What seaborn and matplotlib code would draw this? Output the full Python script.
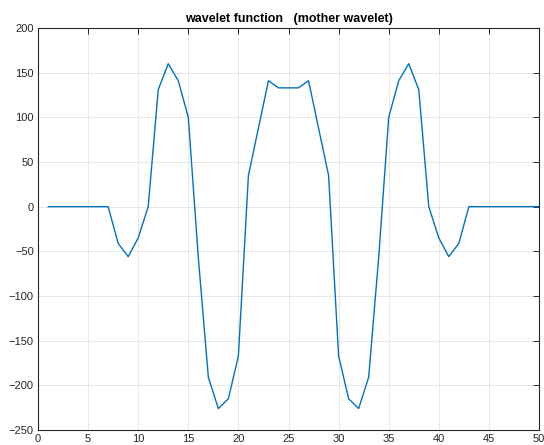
import matplotlib
matplotlib.use("Agg")
import matplotlib.pyplot as plt
import seaborn as sns
import pandas as pd

x_vals = list(range(1, 51))
y_vals = [0, 0, 0, 0, 0, 0, 0, -41, -56, -35,
          0, 131, 160, 141, 100, -57, -191, -226, -215, -167,
          35, 88, 141, 133, 133, 133, 141, 88, 35, -167,
          -215, -226, -191, -57, 100, 141, 160, 131, 0, -35,
          -56, -41, 0, 0, 0, 0, 0, 0, 0, 0]
x_ticks = [0, 5, 10, 15, 20, 25, 30, 35, 40, 45, 50]
y_ticks = [-250, -200, -150, -100, -50, 0, 50, 100, 150, 200]
title = "wavelet function   (mother wavelet)"

sns.set_style("white")
plt.rcParams['font.family'] = ['Liberation Sans', 'DejaVu Sans']

df = pd.DataFrame({"x": x_vals, "y": y_vals})

fig = plt.figure(figsize=(5.44, 4.45), dpi=100)
ax = fig.add_axes([38/544, 1-430/445, (539-38)/544, (430-28)/445])
sns.lineplot(data=df, x="x", y="y", ax=ax, color="#0072BD", linewidth=1.0)

ax.set_xlim(0, 50)
ax.set_ylim(-250, 200)
ax.set_xticks(x_ticks)
ax.set_yticks(y_ticks)
ax.set_xlabel("")
ax.set_ylabel("")
ax.grid(True, color="#e3e3e3", linewidth=0.6)
ax.tick_params(direction="in", length=4, width=0.7, colors="#262626",
               labelsize=8, top=True, right=True, pad=3)
for s in ax.spines.values():
    s.set_color("#262626")
    s.set_linewidth(0.8)
ax.set_title(title, fontsize=9, fontweight="bold", color="black", pad=4)

fig.savefig("out.png", dpi=100)
